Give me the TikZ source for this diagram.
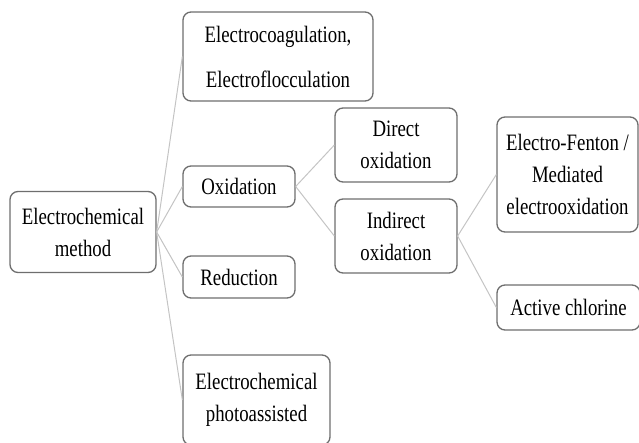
\documentclass[tikz,border=0pt]{standalone}
\usepackage{fontspec}
\setmainfont{Liberation Serif}[FakeStretch=0.8]
\usepackage{xcolor}
\definecolor{boxgray}{HTML}{6E6E6E}
\definecolor{linegray}{HTML}{C4C4C4}

\tikzset{
  box/.style={draw=boxgray, line width=1.3pt, rounded corners=8pt, fill=white,
    inner sep=0pt, align=center, font=\fontsize{23.5}{32}\selectfont},
  conn/.style={draw=linegray, line width=1pt}
}

\begin{document}
\begin{tikzpicture}[x=1pt, y=-1pt]
\useasboundingbox (0,0) rectangle (639,442);
% first level
\node[box, minimum width=146, minimum height=81] (root) at (83,232) {Electrochemical\\method};
\node[box, minimum width=190, minimum height=89] (coag) at (278,56.5) {Electrocoagulation,\\[13pt]Electroflocculation};
\node[box, minimum width=112, minimum height=41] (oxid) at (239,186.5) {Oxidation};
\node[box, minimum width=112, minimum height=42] (redu) at (239,277) {Reduction};
\node[box, minimum width=147, minimum height=90] (photo) at (256.5,400) {Electrochemical\\photoassisted};
% oxidation
\node[box, minimum width=122, minimum height=74] (direct) at (396,145) {Direct\\oxidation};
\node[box, minimum width=122, minimum height=74] (indirect) at (396,236) {Indirect\\oxidation};
% indirect oxidation
\node[box, minimum width=141, minimum height=115] (fenton) at (567.5,174.5) {Electro-Fenton /\\Mediated\\electrooxidation};
\node[box, minimum width=143, minimum height=45] (chlor) at (568.5,307.5) {Active chlorine};
% connectors
\foreach \child in {coag, oxid, redu, photo}{
\draw[conn] (root.east) -- (\child.west);
}
\draw[conn] (oxid.east) -- (direct.west);
\draw[conn] (oxid.east) -- (indirect.west);
\draw[conn] (indirect.east) -- (fenton.west);
\draw[conn] (indirect.east) -- (chlor.west);
\end{tikzpicture}
\end{document}
